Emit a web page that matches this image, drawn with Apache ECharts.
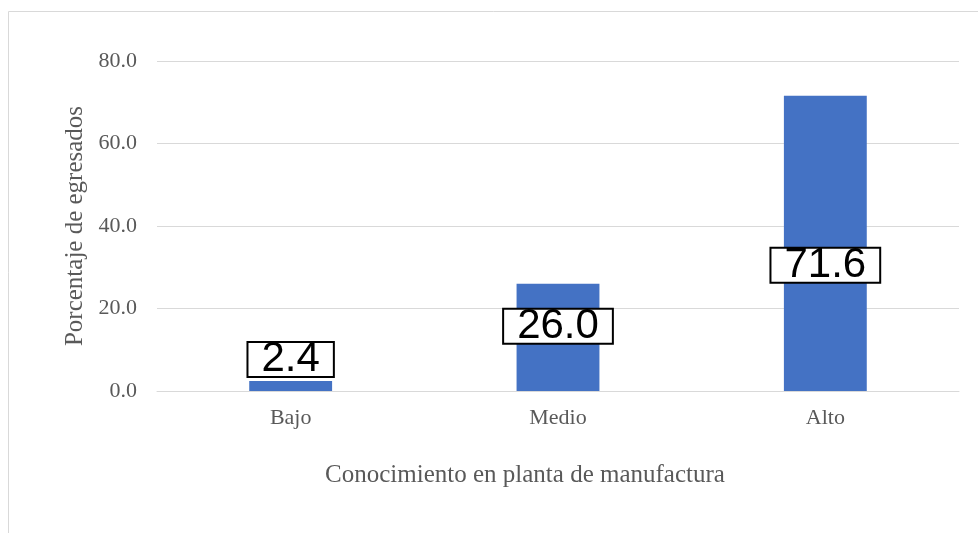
<!DOCTYPE html>
<html>
<head>
<meta charset="utf-8">
<script src="https://cdn.jsdelivr.net/npm/echarts@6/dist/echarts.min.js"></script>
<style>
  html, body { margin: 0; padding: 0; background: #fff; }
  #chart { width: 978px; height: 533px; }
</style>
</head>
<body>
<div id="chart"></div>
<script>
// 数据
var categories = ["Bajo", "Medio", "Alto"];
var values = [2.4, 26.0, 71.6];
var yTicks = [0, 20, 40, 60, 80];

(function () {
    var myChart = echarts.init(document.getElementById("chart"));

    // 每个标签的位置不一样（参照原图）
    var labelPos = [
        { position: "top", distance: 5 },
        { position: "insideTop", distance: 26 },
        { position: "insideTop", distance: 153 }
    ];

    var barData = values.map(function (v, i) {
        return {
            value: v,
            label: labelPos[i]
        };
    });

    var option = {
        animation: false,
        graphic: [
            {
                type: "rect",
                shape: { x: 8.5, y: 11.5, width: 1000, height: 600 },
                style: { fill: "none", stroke: "#d9d9d9", lineWidth: 1 },
                silent: true
            }
        ],
        grid: {
            left: 157,
            right: 19,
            top: 61,
            bottom: 142
        },
        xAxis: {
            type: "category",
            data: categories,
            name: "Conocimiento en planta de manufactura",
            nameLocation: "middle",
            nameGap: 72,
            nameTextStyle: {
                fontFamily: "Liberation Serif",
                fontSize: 25,
                color: "#595959",
                // 标题稍微偏左
                padding: [0, 66, 0, 0]
            },
            axisTick: { show: false },
            axisLine: { lineStyle: { color: "#d9d9d9", width: 1 } },
            axisLabel: {
                fontFamily: "Liberation Serif",
                fontSize: 22,
                color: "#595959",
                margin: 16
            }
        },
        yAxis: {
            type: "value",
            min: yTicks[0],
            max: yTicks[yTicks.length - 1],
            interval: 20,
            name: "Porcentaje de egresados",
            nameLocation: "middle",
            nameGap: 67,
            nameTextStyle: {
                fontFamily: "Liberation Serif",
                fontSize: 25,
                color: "#595959"
            },
            axisLabel: {
                fontFamily: "Liberation Serif",
                fontSize: 22,
                color: "#595959",
                margin: 20,
                formatter: function (v) { return v.toFixed(1); }
            },
            axisLine: { show: false },
            axisTick: { show: false },
            splitLine: { lineStyle: { color: "#d9d9d9", width: 1 } }
        },
        series: [
            {
                type: "bar",
                data: barData,
                barWidth: "31%",
                itemStyle: { color: "#4472C4" },
                label: {
                    show: true,
                    fontFamily: "Liberation Sans",
                    fontSize: 42,
                    color: "#000",
                    backgroundColor: "#fff",
                    borderColor: "#000",
                    borderWidth: 2,
                    padding: [0, 13],
                    lineHeight: 33,
                    formatter: function (p) { return p.value.toFixed(1); }
                }
            }
        ]
    };

    myChart.setOption(option);
    window.addEventListener("resize", function () {
        myChart.resize();
    });
})();
</script>
</body>
</html>
